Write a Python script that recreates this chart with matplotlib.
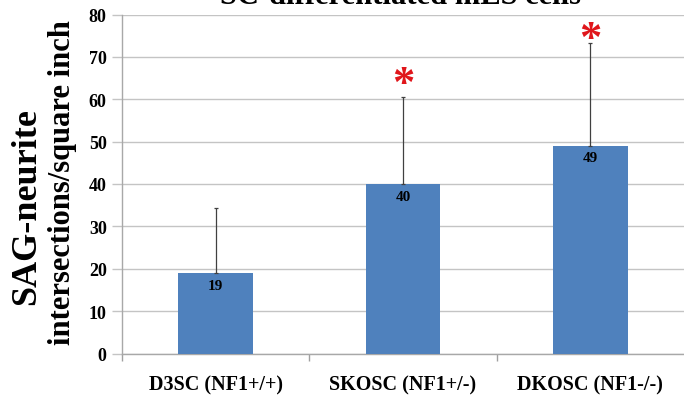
import numpy as np
import matplotlib.pyplot as plt

# SAG-neurite intersection density per cell line
categories = ['D3SC (NF1+/+)', 'SKOSC (NF1+/-)', 'DKOSC (NF1-/-)']
means = [19, 40, 49]
errors = [15.4, 20.5, 24.3]
# height of the significance asterisk (None = not significant)
star_levels = [None, 64.6, 75.2]

bar_color = '#4F81BD'
serif = ['Liberation Serif', 'DejaVu Serif']

fig = plt.figure(figsize=(6.84, 4.02), dpi=100)
ax = fig.add_axes([122 / 684, 47.5 / 402, 562 / 684, 339 / 402])

x = np.arange(len(categories))
ax.bar(x, means, width=0.4, color=bar_color, zorder=3)
ax.errorbar(x, means, yerr=[np.zeros(len(means)), errors], fmt='none',
            ecolor='#404040', elinewidth=0.9, capsize=1.5, capthick=0.9, zorder=4)

for xi, m, star in zip(x, means, star_levels):
    ax.annotate(str(m), (xi, m), xytext=(0, -4), textcoords='offset points',
                ha='center', va='top', fontsize=11, fontweight='bold',
                family=serif, color='black', zorder=5)
    if star is not None:
        ax.text(xi, star, '*', ha='center', va='center_baseline', fontsize=32,
                fontweight='bold', family=serif, color='#E0161B', zorder=5,
                transform=ax.transData)

ax.set_xlim(-0.5, len(categories) - 0.5)
ax.set_ylim(0, 80)
ax.set_yticks(range(0, 81, 10))
ax.yaxis.grid(True, color='#C4C4C4', linewidth=1.0, zorder=0)
ax.set_axisbelow(True)

# category labels centred, ticks sit on the boundaries
ax.set_xticks(x)
ax.set_xticklabels(categories, family=serif, fontsize=14.5, fontweight='bold')
ax.tick_params(axis='x', length=0, pad=15)
ax.set_xticks(np.arange(-0.5, len(categories) - 0.5, 1.0), minor=True)
ax.tick_params(axis='x', which='minor', length=5, color='#A0A0A0', width=1)
ax.tick_params(axis='y', length=7, color='#C4C4C4', width=1, pad=4)
for lab in ax.get_yticklabels():
    lab.set_family(serif)
    lab.set_fontweight('bold')
    lab.set_fontsize(13)

for side in ['top', 'right']:
    ax.spines[side].set_visible(False)
for side in ['left', 'bottom']:
    ax.spines[side].set_color('#A8A8A8')
    ax.spines[side].set_linewidth(1)

fig.text(27 / 684, 1 - 207 / 402, 'SAG-neurite', rotation=90, ha='center',
         va='center', family=serif, fontsize=26, fontweight='bold')
fig.text(63 / 684, 1 - 183 / 402, 'intersections/square inch', rotation=90,
         ha='center', va='center', family=serif, fontsize=22, fontweight='bold')

fig.text(400 / 684, 1 - 4 / 402, 'SC-differentiated mES cells', ha='center',
         va='baseline', family=serif, fontsize=22, fontweight='bold')

fig.savefig('out.png', dpi=100)
